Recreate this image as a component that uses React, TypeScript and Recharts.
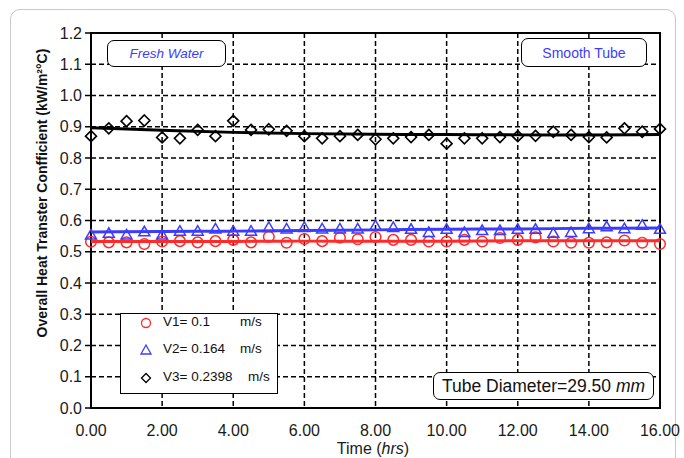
import {
  ComposedChart,
  Scatter,
  Line,
  XAxis,
  YAxis,
  CartesianGrid,
  ReferenceArea,
  Legend,
} from "recharts";

// time in hours
const hours = [
  0, 0.5, 1, 1.5, 2, 2.5, 3, 3.5, 4, 4.5, 5, 5.5, 6, 6.5, 7, 7.5, 8, 8.5, 9,
  9.5, 10, 10.5, 11, 11.5, 12, 12.5, 13, 13.5, 14, 14.5, 15, 15.5, 16,
];

// measured U (kW/m2C)
const v1Values = [
  0.532, 0.53, 0.53, 0.525, 0.533, 0.534, 0.53, 0.534, 0.538, 0.53, 0.548,
  0.529, 0.541, 0.534, 0.545, 0.54, 0.547, 0.538, 0.538, 0.533, 0.533, 0.538,
  0.533, 0.544, 0.538, 0.546, 0.533, 0.529, 0.529, 0.53, 0.536, 0.529, 0.525,
];
const v2Values = [
  0.554, 0.559, 0.554, 0.564, 0.554, 0.566, 0.566, 0.573, 0.566, 0.566, 0.578,
  0.573, 0.578, 0.573, 0.573, 0.573, 0.583, 0.578, 0.572, 0.562, 0.572, 0.562,
  0.568, 0.568, 0.572, 0.572, 0.559, 0.562, 0.574, 0.58, 0.574, 0.585, 0.572,
];
const v3Values = [
  0.87, 0.895, 0.918, 0.92, 0.866, 0.863, 0.89, 0.87, 0.919, 0.89, 0.892,
  0.887, 0.87, 0.863, 0.87, 0.874, 0.86, 0.863, 0.867, 0.874, 0.846, 0.863,
  0.863, 0.867, 0.87, 0.871, 0.884, 0.874, 0.867, 0.866, 0.895, 0.884, 0.893,
];

// trend lines
const trendHours = [0, 2, 4, 6, 8, 10, 12, 14, 16];
const v1Trend = [0.533, 0.533, 0.533, 0.534, 0.534, 0.534, 0.535, 0.535, 0.535];
const v2Trend = [0.563, 0.565, 0.566, 0.568, 0.57, 0.572, 0.573, 0.575, 0.576];
const v3Trend = [0.897, 0.889, 0.882, 0.878, 0.876, 0.875, 0.874, 0.874, 0.875];

const xTicks = [0, 2, 4, 6, 8, 10, 12, 14, 16];
const yTicks = [0, 0.1, 0.2, 0.3, 0.4, 0.5, 0.6, 0.7, 0.8, 0.9, 1.0, 1.1, 1.2];

const legendNames = ["V1= 0.1", "V2= 0.164", "V3= 0.2398"];
const legendUnit = "m/s";

const RED = "#ff2a2a";
const BLUE = "#3c3cff";
const FONT = "'Liberation Sans', Arial, sans-serif";

const pts = (xs: number[], ys: number[]) => xs.map((t, i) => ({ t, v: ys[i] }));

const CircleDot = (p: any) => (
  <circle cx={p.cx} cy={p.cy} r={5.3} fill="none" stroke={RED} strokeWidth={1.5} />
);
const TriangleDot = (p: any) => (
  <polygon
    points={`${p.cx},${p.cy - 5.5} ${p.cx - 5.5},${p.cy + 4} ${p.cx + 5.5},${p.cy + 4}`}
    fill="none"
    stroke={BLUE}
    strokeWidth={1.5}
  />
);
const DiamondDot = (p: any) => (
  <polygon
    points={`${p.cx},${p.cy - 5.5} ${p.cx + 5.5},${p.cy} ${p.cx},${p.cy + 5.5} ${p.cx - 5.5},${p.cy}`}
    fill="none"
    stroke="#000"
    strokeWidth={1.6}
  />
);

const legendIcons = [
  <circle cx={7} cy={7} r={4.5} fill="none" stroke={RED} strokeWidth={1.3} />,
  <polygon points="7,2 2,11 12,11" fill="none" stroke={BLUE} strokeWidth={1.3} />,
  <polygon points="7,2.5 11.5,7 7,11.5 2.5,7" fill="none" stroke="#000" strokeWidth={1.3} />,
];
const unitOffsets = [119, 119, 127];
const rowTops = [0, 27, 55];

function LegendBox() {
  return (
    <div
      style={{
        position: "relative",
        width: 158,
        height: 81,
        boxSizing: "border-box",
        border: "1.5px solid #000",
        background: "#fff",
        fontFamily: FONT,
        fontSize: 13.5,
        color: "#111",
      }}
    >
      {legendNames.map((name, i) => (
        <div key={name} style={{ position: "absolute", top: rowTops[i], left: 0, width: 158, height: 18 }}>
          <svg width={14} height={14} style={{ position: "absolute", left: 18, top: 2 }}>
            {legendIcons[i]}
          </svg>
          <span style={{ position: "absolute", left: 42, top: 0 }}>{name}</span>
          <span style={{ position: "absolute", left: unitOffsets[i], top: 0 }}>{legendUnit}</span>
        </div>
      ))}
    </div>
  );
}

const boxStyle = {
  position: "absolute" as const,
  boxSizing: "border-box" as const,
  border: "1.5px solid #000",
  borderRadius: 7,
  background: "#fff",
  display: "flex",
  alignItems: "center",
  justifyContent: "center",
  fontFamily: FONT,
};

export default function App() {
  return (
    <div
      style={{
        position: "absolute",
        left: 0,
        top: 0,
        width: 684,
        height: 458,
        background: "#fff",
        overflow: "hidden",
      }}
    >
      <div
        style={{
          position: "absolute",
          left: 10,
          top: 9,
          width: 664,
          height: 470,
          border: "1px solid #c9c9c9",
          borderRadius: 10,
        }}
      />
      <ComposedChart
        width={684}
        height={458}
        margin={{ top: 33, right: 24, bottom: 0, left: 0 }}
        style={{ position: "absolute", left: 0, top: 0 }}
      >
        <CartesianGrid stroke="#000" strokeWidth={1.5} strokeDasharray="5 3" />
        <XAxis
          type="number"
          dataKey="t"
          domain={[0, 16]}
          ticks={xTicks}
          tickFormatter={(v: number) => v.toFixed(2)}
          axisLine={false}
          tickLine={false}
          tickMargin={11}
          height={50}
          tick={{ fill: "#1a1a1a", fontSize: 16, fontFamily: FONT }}
          label={{
            content: () => (
              <text x={373} y={454} textAnchor="middle" fontSize={16} fontFamily={FONT} fill="#1a1a1a">
                Time (<tspan fontStyle="italic">hrs</tspan>)
              </text>
            ),
          }}
        />
        <YAxis
          type="number"
          dataKey="v"
          domain={[0, 1.2]}
          ticks={yTicks}
          tickFormatter={(v: number) => v.toFixed(1)}
          width={91}
          axisLine={false}
          tickLine={{ stroke: "#000", strokeWidth: 1.5 }}
          tickSize={6}
          tickMargin={3}
          tick={{ fill: "#1a1a1a", fontSize: 16, fontFamily: FONT }}
          label={{
            content: () => (
              <text
                x={42}
                y={193}
                transform="rotate(-90, 42, 193)"
                textAnchor="middle"
                dominantBaseline="central"
                fontSize={14}
                fontWeight="bold"
                fontFamily={FONT}
                fill="#111"
              >
                Overall Heat Transter Confficient (kW/m²°C)
              </text>
            ),
          }}
        />
        <ReferenceArea
          x1={0}
          x2={16}
          y1={0}
          y2={1.2}
          fill="none"
          stroke="#000"
          strokeWidth={2}
          ifOverflow="visible"
        />
        <Scatter name={legendNames[0]} data={pts(hours, v1Values)} shape={CircleDot} isAnimationActive={false} />
        <Scatter name={legendNames[1]} data={pts(hours, v2Values)} shape={TriangleDot} isAnimationActive={false} />
        <Scatter name={legendNames[2]} data={pts(hours, v3Values)} shape={DiamondDot} isAnimationActive={false} />
        <Line
          data={pts(trendHours, v1Trend)}
          dataKey="v"
          type="monotone"
          stroke={RED}
          strokeWidth={3}
          dot={false}
          legendType="none"
          isAnimationActive={false}
        />
        <Line
          data={pts(trendHours, v2Trend)}
          dataKey="v"
          type="monotone"
          stroke={BLUE}
          strokeWidth={3}
          dot={false}
          legendType="none"
          isAnimationActive={false}
        />
        <Line
          data={pts(trendHours, v3Trend)}
          dataKey="v"
          type="monotone"
          stroke="#000"
          strokeWidth={3}
          dot={false}
          legendType="none"
          isAnimationActive={false}
        />
        <Legend
          layout="vertical"
          align="center"
          verticalAlign="middle"
          content={() => <LegendBox />}
          wrapperStyle={{ left: 120, top: 313, width: 158, height: 81 }}
        />
      </ComposedChart>
      <div style={{ ...boxStyle, left: 107, top: 40, width: 119, height: 27, color: BLUE, fontSize: 13.5, fontStyle: "italic" }}>
        Fresh Water
      </div>
      <div style={{ ...boxStyle, left: 521, top: 38, width: 126, height: 29, color: BLUE, fontSize: 14 }}>
        Smooth Tube
      </div>
      <div style={{ ...boxStyle, left: 433, top: 372, width: 221, height: 28, color: "#111", fontSize: 17.5 }}>
        Tube Diameter=29.50&nbsp;<i>mm</i>
      </div>
    </div>
  );
}
